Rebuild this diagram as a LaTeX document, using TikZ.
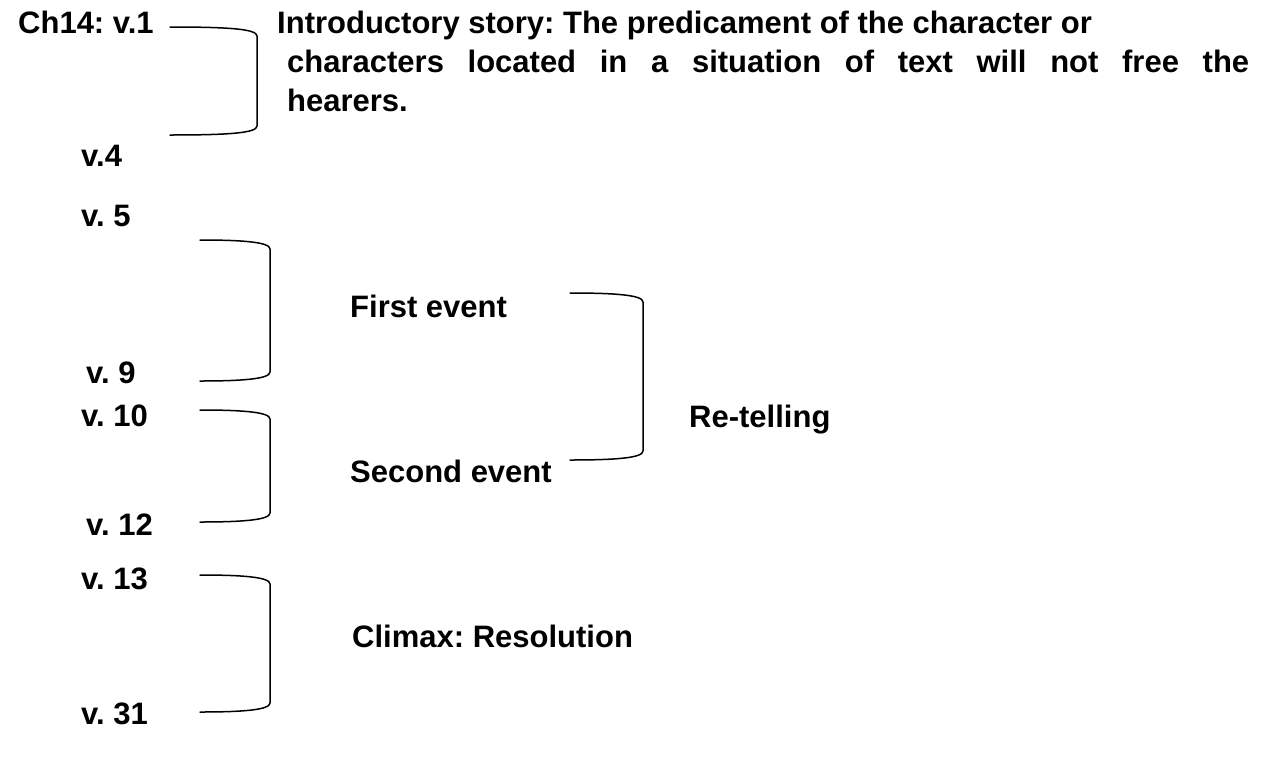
\documentclass[tikz,border=0pt]{standalone}
\usepackage{fontspec}
\setmainfont{Liberation Sans}
\newcommand\brkshape[4]{% x0 x1 ytop ybottom
  \draw[brk] (#1,#3) .. controls (#2-28,#3) and (#2,#3+2) .. (#2,#3+9)
    -- (#2,#4-9) .. controls (#2,#4-2) and (#2-28,#4) .. (#1,#4);}
\begin{document}
\begin{tikzpicture}[x=1pt,y=-1pt,
  lbl/.style={anchor=base west, inner sep=0pt, font=\fontsize{31}{37}\selectfont\bfseries\frenchspacing},
  brk/.style={line width=1.5pt, line cap=round}]
\useasboundingbox (0,0) rectangle (1263,758);
% left verse labels
\node[lbl] (ch) at (18,33) {Ch14: v.1};
\node[lbl] (v4) at (81,166) {v.4};
\node[lbl] (v5) at (81,226) {v. 5};
\node[lbl] (v9) at (86,383) {v. 9};
\node[lbl] (v10) at (81,426) {v. 10};
\node[lbl] (v12) at (86,535) {v. 12};
\node[lbl] (v13) at (81,589) {v. 13};
\node[lbl] (v31) at (81,724) {v. 31};
% introductory paragraph
\node[lbl] (intro1) at (277,33) {Introductory story: The predicament of the character or};
\node[lbl] (intro2) at (287,72) {\makebox[962pt][s]{characters located in a situation of text will not free the}};
\node[lbl] (intro3) at (287,111) {hearers.};
% middle labels
\node[lbl] (first) at (350,317) {First event};
\node[lbl] (second) at (350,482) {Second event};
\node[lbl] (climax) at (352,647) {Climax: Resolution};
\node[lbl] (retell) at (689,427) {Re-telling};
% brackets
\brkshape{170}{257}{27}{135}
\brkshape{200}{270}{240}{381}
\brkshape{570}{643}{293}{460}
\brkshape{200}{270}{410}{522}
\brkshape{200}{270}{575}{712}
\end{tikzpicture}
\end{document}
